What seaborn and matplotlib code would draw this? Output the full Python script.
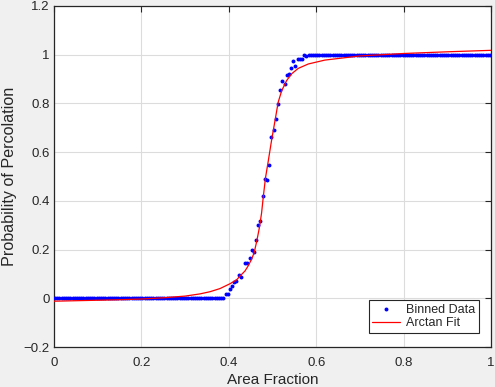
import numpy as np
import pandas as pd
import matplotlib
matplotlib.use("Agg")
import matplotlib.pyplot as plt
import seaborn as sns

# ---- data ----
# binned data: low plateau (bins centred 0.0025 ... 0.3875)
low_x = np.round(np.arange(0.0025, 0.39, 0.005), 4)
low_y = [0.0] * len(low_x)
# transition bins
trans_x = [0.3925, 0.3975, 0.4025, 0.4075, 0.4125, 0.4175, 0.4225, 0.4275,
           0.4375, 0.4425, 0.4475, 0.4525, 0.4575, 0.4625, 0.4675, 0.4725,
           0.4775, 0.4825, 0.4875, 0.4925, 0.4975, 0.5025, 0.5075, 0.5125,
           0.5175, 0.5225, 0.5275, 0.5325, 0.5375, 0.5425, 0.5475, 0.5525,
           0.5575, 0.5625, 0.5675, 0.5725, 0.5775, 0.5825]
trans_y = [0.018, 0.018, 0.038, 0.050, 0.066, 0.073, 0.094, 0.087,
           0.143, 0.143, 0.166, 0.198, 0.190, 0.241, 0.300, 0.317,
           0.419, 0.490, 0.485, 0.549, 0.661, 0.690, 0.736, 0.798,
           0.854, 0.892, 0.879, 0.918, 0.921, 0.947, 0.973, 0.952,
           0.984, 0.984, 0.984, 1.000, 0.993, 1.000]
# high plateau (bins centred 0.5875 ... 0.9975)
high_x = np.round(np.arange(0.5875, 1.0, 0.005), 4)
high_y = [1.0] * len(high_x)

# arctan fit curve
fit_x = [0.0, 0.05, 0.10, 0.15, 0.20, 0.25, 0.30, 0.334, 0.357, 0.38, 0.403,
         0.418, 0.426, 0.437, 0.445, 0.452, 0.458, 0.464, 0.470, 0.475, 0.479,
         0.484, 0.490, 0.498, 0.506, 0.513, 0.521, 0.532, 0.544, 0.559, 0.582,
         0.62, 0.70, 0.80, 0.90, 1.00]
fit_y = [-0.012, -0.010, -0.008, -0.006, -0.003, 0.002, 0.009, 0.018, 0.027,
         0.040, 0.060, 0.076, 0.092, 0.112, 0.135, 0.160, 0.187, 0.235, 0.290,
         0.350, 0.418, 0.495, 0.560, 0.650, 0.732, 0.805, 0.852, 0.893, 0.922,
         0.944, 0.962, 0.978, 0.995, 1.005, 1.012, 1.018]

x_ticks = [0, 0.2, 0.4, 0.6, 0.8, 1]
x_tick_labels = ["0", "0.2", "0.4", "0.6", "0.8", "1"]
y_ticks = [-0.2, 0, 0.2, 0.4, 0.6, 0.8, 1, 1.2]
y_tick_labels = ["-0.2", "0", "0.2", "0.4", "0.6", "0.8", "1", "1.2"]

binned = pd.DataFrame({
    "x": np.concatenate([low_x, trans_x, high_x]),
    "y": np.concatenate([low_y, trans_y, high_y]),
})
fit = pd.DataFrame({"x": fit_x, "y": fit_y})

# ---- plot ----
sns.set_style("white")
plt.rcParams["font.family"] = ["Liberation Sans", "DejaVu Sans"]

fig = plt.figure(figsize=(4.95, 3.87), dpi=100, facecolor="#f0f0f0")
ax = fig.add_axes([54 / 495, 1 - 347 / 387, 437 / 495, 341 / 387])
ax.set_facecolor("white")

sns.scatterplot(data=binned, x="x", y="y", ax=ax, color="#0000ff",
                marker="o", s=8, linewidth=0, label="Binned Data", zorder=3)
sns.lineplot(data=fit, x="x", y="y", ax=ax, color="#ff0000", lw=0.9,
             sort=False, estimator=None, label="Arctan Fit", zorder=4)

ax.set_xlim(0, 1)
ax.set_ylim(-0.2, 1.2)
ax.set_xticks(x_ticks)
ax.set_xticklabels(x_tick_labels)
ax.set_yticks(y_ticks)
ax.set_yticklabels([t.replace("-", "\u2212") for t in y_tick_labels])

ax.grid(True, color="#dcdcdc", lw=0.8)
ax.set_axisbelow(True)
for s in ax.spines.values():
    s.set_color("#262626")
    s.set_linewidth(0.9)
    s.set_visible(True)
ax.tick_params(direction="in", length=4, width=0.8, colors="#262626",
               labelsize=9.5, top=True, right=True, pad=3)
ax.tick_params(axis="x", pad=7)

ax.set_xlabel("Area Fraction", fontsize=11, color="#262626", labelpad=3)
ax.set_ylabel("Probability of Percolation", fontsize=11.6, color="#262626",
              labelpad=5)

leg = ax.legend(loc="lower right", bbox_to_anchor=(0.987, 0.022),
                fontsize=9, frameon=True, fancybox=False, framealpha=1,
                edgecolor="#262626", handlelength=2.2, handletextpad=0.5,
                borderpad=0.3, labelspacing=0.15, markerscale=1.0)
leg.get_frame().set_linewidth(0.8)

fig.savefig("out.png", dpi=100, facecolor=fig.get_facecolor())
